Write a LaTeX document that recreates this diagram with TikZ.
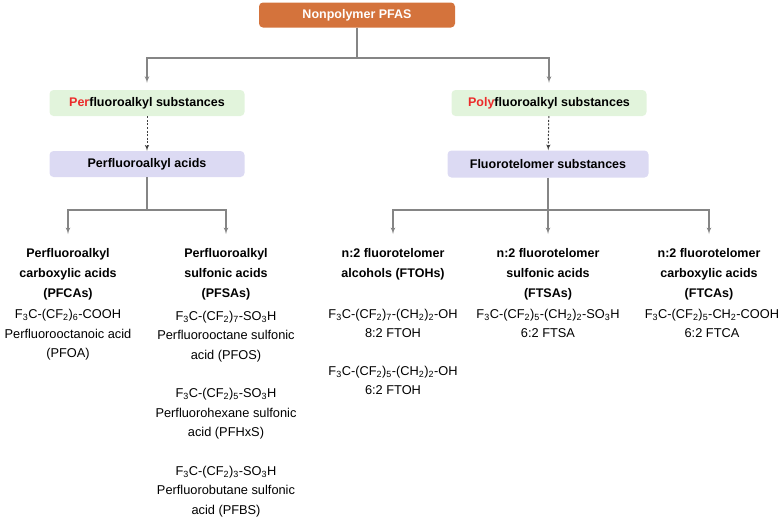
\documentclass[tikz,border=0pt]{standalone}
\usepackage{fontspec}
\setmainfont{Liberation Sans}
\usetikzlibrary{arrows}

\definecolor{pfasorange}{HTML}{D4733C}
\definecolor{subsgreen}{HTML}{E2F4DC}
\definecolor{classpurple}{HTML}{DCDAF3}
\definecolor{prefixred}{HTML}{EC2B2B}
\definecolor{linegray}{HTML}{858585}
\newcommand{\sbs}[1]{\textsubscript{#1}}

\begin{document}
\begin{tikzpicture}[x=1pt,y=-1pt,>=latex',
    box/.style={rounded corners=4pt,minimum width=195pt,minimum height=26pt,inner sep=0pt,
      font=\bfseries\fontsize{12.5}{15}\selectfont},
    head/.style={align=center,inner sep=0pt,font=\bfseries\fontsize{12.5}{20}\selectfont},
    chem/.style={align=center,inner sep=0pt,font=\fontsize{12.8}{19.5}\selectfont},
    branch/.style={draw=linegray,line width=1.2pt},
    dotarrow/.style={draw=black!75,line width=1pt,dash pattern=on 2pt off 1.6pt}]
                \useasboundingbox (0,0) rectangle (781,517);
                % boxes
                \node[box,fill=pfasorange,text=white,minimum width=196pt,minimum height=25pt] (pfas) at (357,15) {Nonpolymer PFAS};
                \node[box,fill=subsgreen] (perfl) at (147,103) {{\color{prefixred}Per}fluoroalkyl substances};
                \node[box,fill=subsgreen] (polyfl) at (549,103) {{\color{prefixred}Poly}fluoroalkyl substances};
                \node[box,fill=classpurple] (pfaa) at (147,164) {Perfluoroalkyl acids};
                \node[box,fill=classpurple,minimum width=201pt,minimum height=27pt] (fts) at (548,164) {Fluorotelomer substances};
                % column heads
                \node[head,anchor=north] (pfca) at (68,248) {Perfluoroalkyl\\carboxylic acids\\(PFCAs)};
                \node[head,anchor=north] (pfsa) at (226,248) {Perfluoroalkyl\\sulfonic acids\\(PFSAs)};
                \node[head,anchor=north] (ftoh) at (393,248) {n:2 fluorotelomer\\alcohols (FTOHs)};
                \node[head,anchor=north] (ftsa) at (548,248) {n:2 fluorotelomer\\sulfonic acids\\(FTSAs)};
                \node[head,anchor=north] (ftca) at (709,248) {n:2 fluorotelomer\\carboxylic acids\\(FTCAs)};
                % compounds
                \node[chem] (pfoa) at (68,335) {F\sbs{3}C-(CF\sbs{2})\sbs{6}-COOH\\Perfluorooctanoic acid\\(PFOA)};
                \node[chem] (pfos) at (226,336.5) {F\sbs{3}C-(CF\sbs{2})\sbs{7}-SO\sbs{3}H\\Perfluorooctane sulfonic\\acid (PFOS)};
                \node[chem] (pfhxs) at (226,414) {F\sbs{3}C-(CF\sbs{2})\sbs{5}-SO\sbs{3}H\\Perfluorohexane sulfonic\\acid (PFHxS)};
                \node[chem] (pfbs) at (226,491.5) {F\sbs{3}C-(CF\sbs{2})\sbs{3}-SO\sbs{3}H\\Perfluorobutane sulfonic\\acid (PFBS)};
                \node[chem] (ftoh8) at (393,323.5) {F\sbs{3}C-(CF\sbs{2})\sbs{7}-(CH\sbs{2})\sbs{2}-OH\\8:2 FTOH};
                \node[chem] (ftoh6) at (393,380.5) {F\sbs{3}C-(CF\sbs{2})\sbs{5}-(CH\sbs{2})\sbs{2}-OH\\6:2 FTOH};
                \node[chem] (ftsa6) at (548,323.5) {F\sbs{3}C-(CF\sbs{2})\sbs{5}-(CH\sbs{2})\sbs{2}-SO\sbs{3}H\\6:2 FTSA};
                \node[chem] (ftca6) at (712,323.5) {F\sbs{3}C-(CF\sbs{2})\sbs{5}-CH\sbs{2}-COOH\\6:2 FTCA};
                % connectors
                \draw[branch] (pfas.south) -- (pfas.south |- 0,58) coordinate (pfassplit);
                \draw[branch,->,shorten >=7pt] (pfassplit) -| (perfl.north);
                \draw[branch,->,shorten >=7pt] (pfassplit) -| (polyfl.north);
                \draw[dotarrow,->] (perfl) -- (pfaa);
                \draw[dotarrow,->] (polyfl) -- (fts);
                \draw[branch] (pfaa.south) -- (pfaa.south |- 0,210) coordinate (pfaasplit);
                \draw[branch,->,shorten >=14pt] (pfaasplit) -| (pfca.north);
                \draw[branch,->,shorten >=14pt] (pfaasplit) -| (pfsa.north);
                \draw[branch] (fts.south) -- (fts.south |- 0,210) coordinate (ftssplit);
                \draw[branch,->,shorten >=14pt] (ftssplit) -| (ftoh.north);
                \draw[branch,->,shorten >=14pt] (ftssplit) -- (ftsa.north);
                \draw[branch,->,shorten >=14pt] (ftssplit) -| (ftca.north);
            \end{tikzpicture}
\end{document}
